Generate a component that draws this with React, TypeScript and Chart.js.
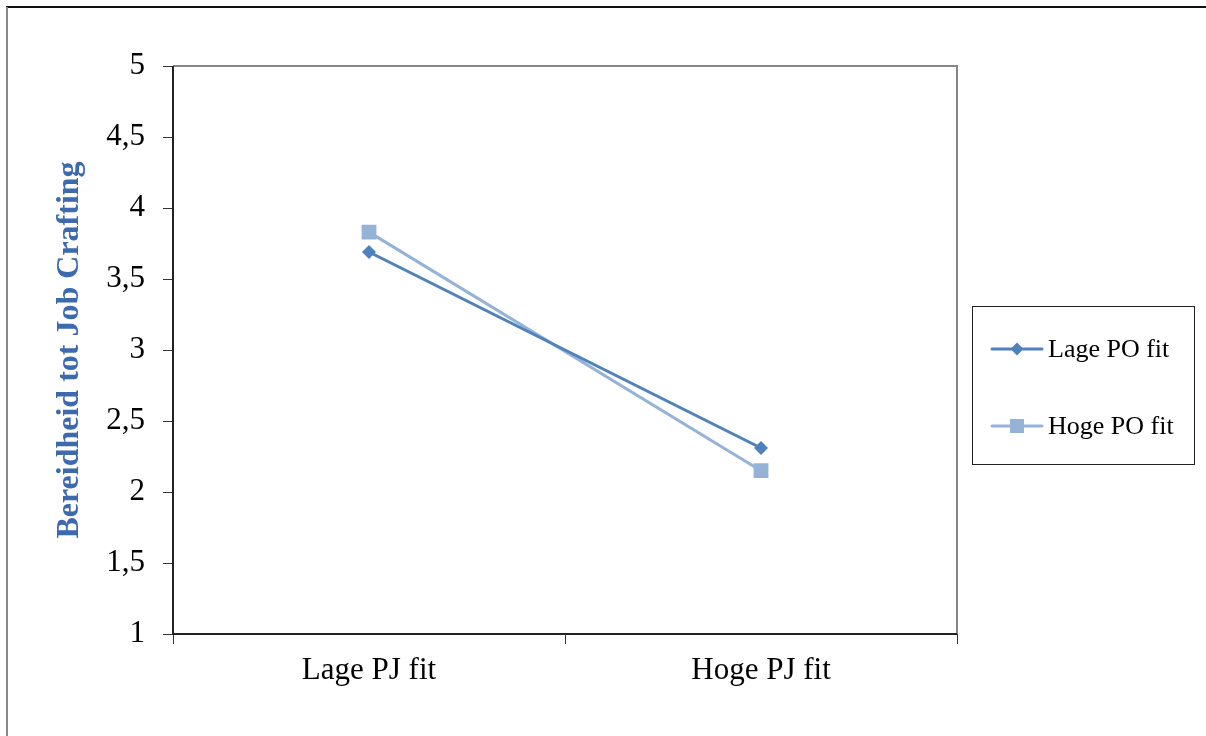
import React, { useEffect, useRef } from "react";
import { Chart, registerables } from "chart.js";

Chart.register(...registerables);

const categories = ["Lage PJ fit", "Hoge PJ fit"];
const seriesNames = ["Lage PO fit", "Hoge PO fit"];
const lagePO = [3.69, 2.31];
const hogePO = [3.83, 2.15];
const yTicks = [1, 1.5, 2, 2.5, 3, 3.5, 4, 4.5, 5];

const DARK = "#4F81BD";
const LIGHT = "#95B3D7";
const FONT = "'Liberation Serif', 'Times New Roman', serif";

// Outer frame and plot border (top/right in grey)
const framePlugin = {
  id: "frame",
  beforeDraw(chart: any) {
    const { ctx } = chart;
    ctx.save();
    ctx.fillStyle = "#fff";
    ctx.fillRect(0, 0, chart.width, chart.height);
    ctx.strokeStyle = "#111";
    ctx.lineWidth = 2;
    ctx.beginPath();
    ctx.moveTo(6, 7);
    ctx.lineTo(chart.width, 7);
    ctx.stroke();
    ctx.strokeStyle = "#888";
    ctx.beginPath();
    ctx.moveTo(7, 7);
    ctx.lineTo(7, chart.height);
    ctx.stroke();
    ctx.restore();
  },
  beforeDatasetsDraw(chart: any) {
    const { ctx, chartArea } = chart;
    ctx.save();
    ctx.strokeStyle = "#868686";
    ctx.lineWidth = 2;
    ctx.beginPath();
    ctx.moveTo(chartArea.left, chartArea.top);
    ctx.lineTo(chartArea.right, chartArea.top);
    ctx.lineTo(chartArea.right, chartArea.bottom);
    ctx.stroke();
    ctx.strokeStyle = "#222";
    ctx.beginPath();
    ctx.moveTo(chartArea.left, chartArea.top);
    ctx.lineTo(chartArea.left, chartArea.bottom);
    ctx.lineTo(chartArea.right, chartArea.bottom);
    ctx.stroke();
    ctx.restore();
  },
};

// Boxed legend to the right of the plot
const boxLegendPlugin = {
  id: "boxLegend",
  afterDraw(chart: any) {
    const { ctx } = chart;
    const x0 = 972.5, y0 = 306.5, w = 222, h = 158;
    ctx.save();
    ctx.strokeStyle = "#222";
    ctx.lineWidth = 1;
    ctx.strokeRect(x0, y0, w, h);
    const rows = [349, 426];
    chart.data.datasets.forEach((ds: any, i: number) => {
      const y = rows[i];
      ctx.strokeStyle = ds.borderColor;
      ctx.lineWidth = 3;
      ctx.lineCap = "round";
      ctx.beginPath();
      ctx.moveTo(992, y);
      ctx.lineTo(1042, y);
      ctx.stroke();
      ctx.fillStyle = ds.borderColor;
      ctx.beginPath();
      if (ds.pointStyle === "rectRot") {
        ctx.moveTo(1017, y - 6.5);
        ctx.lineTo(1023.5, y);
        ctx.lineTo(1017, y + 6.5);
        ctx.lineTo(1010.5, y);
        ctx.closePath();
      } else {
        ctx.rect(1010, y - 7, 14, 14);
      }
      ctx.fill();
      ctx.fillStyle = "#000";
      ctx.font = `26px ${FONT}`;
      ctx.textBaseline = "middle";
      ctx.textAlign = "left";
      ctx.fillText(ds.label, 1048, y + 1);
    });
    ctx.restore();
  },
};

export default function App() {
  const ref = useRef<HTMLCanvasElement | null>(null);

  useEffect(() => {
    if (!ref.current) return;
    const chart = new Chart(ref.current, {
      type: "line",
      data: {
        labels: categories,
        datasets: [
          {
            label: seriesNames[0],
            data: lagePO,
            borderColor: DARK,
            backgroundColor: DARK,
            borderWidth: 3,
            pointStyle: "rectRot",
            pointRadius: 7,
            pointBorderWidth: 0,
            pointBackgroundColor: DARK,
          },
          {
            label: seriesNames[1],
            data: hogePO,
            borderColor: LIGHT,
            backgroundColor: LIGHT,
            borderWidth: 3,
            pointStyle: "rect",
            pointRadius: 10.5,
            pointBorderWidth: 0,
            pointBackgroundColor: LIGHT,
          },
        ],
      },
      options: {
        animation: false,
        responsive: false,
        layout: { padding: { left: 0, top: 66, right: 249, bottom: 0 } },
        plugins: {
          legend: { display: false },
          tooltip: { enabled: false },
        },
        scales: {
          x: {
            type: "category",
            offset: true,
            grid: {
              offset: true,
              drawOnChartArea: false,
              drawTicks: true,
              tickLength: 10,
              color: "#333",
              lineWidth: 1,
            },
            border: { display: false },
            ticks: {
              color: "#000",
              font: { family: FONT, size: 31 },
              padding: 8,
              maxRotation: 0,
            },
            afterFit(scale: any) {
              scale.height = 736 - 634;
            },
          },
          y: {
            type: "linear",
            min: 1,
            max: 5,
            afterBuildTicks(scale: any) {
              scale.ticks = yTicks.map((v) => ({ value: v }));
            },
            grid: {
              drawOnChartArea: false,
              drawTicks: true,
              tickLength: 10,
              color: "#333",
            },
            border: { display: false },
            ticks: {
              color: "#000",
              font: { family: FONT, size: 31 },
              padding: 18,
              callback: (v: any) => String(v).replace(".", ","),
            },
            title: {
              display: true,
              text: "Bereidheid tot Job Crafting",
              color: "#3D6AAE",
              font: { family: FONT, size: 32, weight: "bold" },
              padding: { top: 51, bottom: 0 },
            },
            afterFit(scale: any) {
              scale.width = 173;
            },
          },
        },
      },
      plugins: [framePlugin, boxLegendPlugin],
    });
    return () => chart.destroy();
  }, []);

  return (
    <div style={{ position: "absolute", left: 0, top: 0, width: 1206, height: 736, background: "#fff" }}>
      <canvas ref={ref} width={1206} height={736} style={{ display: "block" }} />
    </div>
  );
}
